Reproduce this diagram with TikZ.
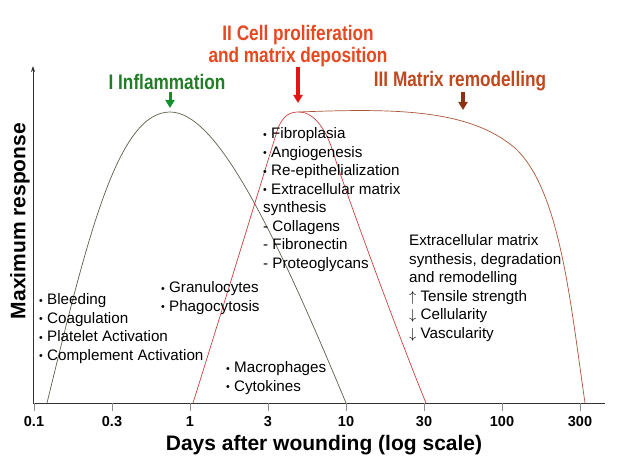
\documentclass[tikz,border=0pt]{standalone}
\usepackage{fontspec}
\setmainfont{Liberation Sans}
\newfontfamily\narrowfont[FakeStretch=0.82]{Liberation Sans}
\usetikzlibrary{arrows.meta}

\definecolor{inflgreen}{RGB}{35,125,40}
\definecolor{inflarrow}{RGB}{25,140,45}
\definecolor{prolifred}{RGB}{232,72,32}
\definecolor{prolifarrow}{RGB}{228,20,20}
\definecolor{remodbrown}{RGB}{192,72,30}
\definecolor{remodarrow}{RGB}{140,50,20}
\definecolor{inflline}{RGB}{95,95,75}
\definecolor{prolifline}{RGB}{205,65,65}
\definecolor{remodline}{RGB}{170,85,55}

% small bullet and arrows as in the list texts
\newcommand{\itembul}{\raisebox{0.02em}{\scalebox{0.7}{•}}}
\newcommand{\upar}{$\uparrow$}
\newcommand{\downar}{$\downarrow$}

\tikzset{
  axis/.style={draw=black!80, line width=0.8pt},
  tickmark/.style={draw=black!45, line width=0.9pt},
  ticklab/.style={inner sep=0pt, font=\bfseries\fontsize{14.5}{16}\selectfont},
  axistitle/.style={inner sep=0pt, font=\bfseries\fontsize{21}{24}\selectfont},
  phase/.style={inner sep=0pt, align=center, font=\narrowfont\bfseries\fontsize{21}{22}\selectfont},
  items/.style={anchor=north west, inner sep=0pt, align=left, font=\fontsize{15.2}{18.5}\selectfont},
  phasearrow/.style={line width=#1, -{Triangle[length=8pt, width=9pt]}},
}

\begin{document}
\begin{tikzpicture}[x=1pt, y=-1pt]
\useasboundingbox[fill=white] (0,0) rectangle (620,465);

% axes
\coordinate (O) at (33,403);
\coordinate (ytop) at (33,66);
\coordinate (xend) at (605,403);
\draw[axis, -{Stealth[length=6pt, width=4pt]}] (O) -- (ytop);
\draw[axis] (O) -- (xend);
\foreach \lab [count=\i from 0] in {0.1,0.3,1,3,10,30,100,300} {
  \coordinate (t\i) at (34+78*\i,403);
  \draw[tickmark] (t\i) -- ++(0,8);
  \node (tl\i) at (34+78*\i,422) [ticklab] {\lab};
}
\node (ylab) at (20,221) [axistitle, rotate=90] {Maximum response};
\node (xlab) at (324,445) [axistitle] {Days after wounding (log scale)};

% response curves
\coordinate (inflpk) at (170,112);
\coordinate (prolifpk) at (299,112);
\draw[inflline, line width=0.7pt] (47,403) .. controls (88,235) and (118,112) .. (inflpk)
  .. controls (215,112) and (270,220) .. (346,403);
\draw[prolifline, line width=0.7pt] (193,403) .. controls (230,285) and (268,160) .. (278,128)
  .. controls (284,114) and (291,112) .. (prolifpk)
  .. controls (316,112) and (328,134) .. (334,155)
  .. controls (345,190) and (400,340) .. (426,403);
\draw[remodline, line width=0.7pt] (prolifpk) .. controls (400,108) and (470,110) .. (515,148)
  .. controls (560,190) and (570,300) .. (585,403);

% phases
\node (infl) at (167,82) [phase, text=inflgreen] {I Inflammation};
\node (prolif) at (298,46) [phase, text=prolifred] {II Cell proliferation\\and matrix deposition};
\node (remod) at (460,81) [phase, text=remodbrown] {III Matrix remodelling};
\coordinate (inflA) at (170,92);
\coordinate (inflB) at (170,108);
\coordinate (prolifA) at (298,67);
\coordinate (prolifB) at (298,103);
\coordinate (remodA) at (463,92);
\coordinate (remodB) at (463,110);
\draw[phasearrow=3pt, inflarrow] (inflA) -- (inflB);
\draw[phasearrow=4pt, prolifarrow] (prolifA) -- (prolifB);
\draw[phasearrow=3.5pt, remodarrow] (remodA) -- (remodB);

% events
\node (early) at (39,293.5) [items] {\itembul{} Bleeding\\\itembul{} Coagulation\\\itembul{} Platelet Activation\\\itembul{} Complement Activation};
\node (cells) at (161,281.5) [items] {\itembul{} Granulocytes\\\itembul{} Phagocytosis};
\node (macro) at (226,361.5) [items] {\itembul{} Macrophages\\\itembul{} Cytokines};
\node (matrix) at (263,127.5) [items] {\itembul{} Fibroplasia\\\itembul{} Angiogenesis\\\itembul{} Re-epithelialization\\\itembul{} Extracellular matrix\\synthesis\\- Collagens\\- Fibronectin\\- Proteoglycans};
\node (late) at (409,234.5) [items] {Extracellular matrix\\synthesis, degradation\\and remodelling\\\upar{} Tensile strength\\\downar{} Cellularity\\\downar{} Vascularity};
\end{tikzpicture}
\end{document}
